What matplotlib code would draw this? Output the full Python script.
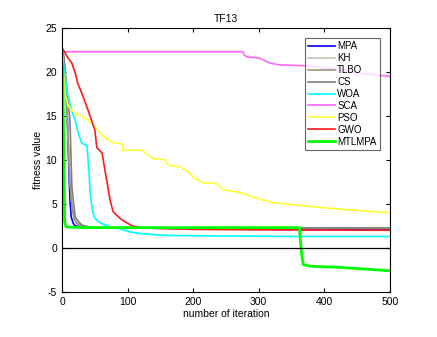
import numpy as np
import matplotlib
matplotlib.use('Agg')
import matplotlib.pyplot as plt

plt.rcParams['font.family'] = ['Liberation Sans', 'DejaVu Sans']
plt.rcParams['axes.unicode_minus'] = False

# iteration / fitness pairs
mpa_x = [0, 2, 5, 8, 10, 12, 14, 17, 20, 30, 50, 100, 200, 300, 400, 500]
mpa_y = [22.6, 22.0, 19.5, 15.0, 10.0, 5.5, 3.5, 2.8, 2.5, 2.4, 2.3, 2.25, 2.2, 2.15, 2.1, 2.1]

kh_x = [0, 3, 6, 9, 12, 15, 18, 22, 30, 50, 100, 500]
kh_y = [22.8, 21.5, 18.0, 13.0, 8.0, 5.0, 3.5, 2.9, 2.5, 2.3, 2.25, 2.2]

tlbo_x = [0, 3, 6, 9, 12, 15, 18, 22, 30, 50, 100, 500]
tlbo_y = [22.7, 21.0, 17.5, 12.5, 7.5, 4.8, 3.4, 2.8, 2.5, 2.3, 2.25, 2.25]

cs_x = [0, 3, 6, 9, 12, 15, 20, 25, 30, 40, 50, 100, 500]
cs_y = [22.8, 21.5, 19.0, 17.0, 14.5, 6.9, 3.5, 3.0, 2.6, 2.4, 2.3, 2.25, 2.25]

woa_x = [0, 2, 8, 15, 20, 25, 30, 36, 38, 40, 42, 43, 45, 47, 50, 55, 62, 70, 80, 91, 100, 111, 125, 142, 170, 250, 350, 500]
woa_y = [22.2, 21.0, 17.6, 15.5, 14.5, 13.0, 11.9, 11.7, 11.6, 9.7, 7.5, 6.2, 5.0, 4.0, 3.4, 3.0, 2.7, 2.5, 2.3, 2.1, 1.9, 1.7, 1.6, 1.5, 1.4, 1.35, 1.3, 1.3]

sca_x = [0, 276, 278, 283, 300, 309, 317, 332, 373, 420, 460, 500]
sca_y = [22.3, 22.3, 21.9, 21.7, 21.6, 21.3, 21.0, 20.8, 20.7, 20.3, 19.8, 19.5]

pso_x = [0, 2, 5, 10, 20, 30, 40, 50, 61, 70, 76, 91, 93, 122, 137, 157, 162, 180, 195, 200, 215, 236, 245, 271, 291, 317, 352, 393, 440, 500]
pso_y = [22.5, 20.0, 17.4, 16.0, 15.3, 15.0, 14.5, 13.8, 12.8, 12.3, 12.0, 11.8, 11.1, 11.1, 10.2, 10.0, 9.4, 9.2, 8.5, 8.0, 7.4, 7.3, 6.6, 6.3, 5.8, 5.2, 4.9, 4.6, 4.3, 4.0]

gwo_x = [0, 2, 9, 15, 20, 24, 30, 38, 45, 50, 53, 61, 66, 70, 73, 78, 85, 91, 100, 107, 122, 150, 200, 300, 500]
gwo_y = [22.7, 22.5, 21.6, 21.0, 19.9, 18.7, 17.6, 16.0, 14.5, 13.4, 11.4, 10.8, 8.6, 6.9, 5.5, 4.1, 3.6, 3.2, 2.8, 2.5, 2.3, 2.2, 2.1, 2.05, 2.0]

mtl_x = [0, 1, 2, 3, 4, 6, 10, 50, 200, 362, 364, 366, 368, 380, 420, 460, 500]
mtl_y = [21.0, 20.5, 15.0, 8.0, 3.0, 2.4, 2.35, 2.3, 2.3, 2.3, 0.5, -1.0, -1.9, -2.1, -2.2, -2.4, -2.6]

names = ['MPA', 'KH', 'TLBO', 'CS', 'WOA', 'SCA', 'PSO', 'GWO', 'MTLMPA']
colors = ['#0000ff', '#c8c4b8', '#989880', '#808080', '#00ffff', '#ff66ff', '#ffff33', '#ff1a1a', '#00ff00']

fig = plt.figure(figsize=(4.37, 3.37), dpi=100)
ax = fig.add_axes([0.142, 0.134, 0.75, 0.783])

series = [(mpa_x, mpa_y), (kh_x, kh_y), (tlbo_x, tlbo_y), (cs_x, cs_y), (woa_x, woa_y),
          (sca_x, sca_y), (pso_x, pso_y), (gwo_x, gwo_y), (mtl_x, mtl_y)]
for (x, y), n, c in zip(series, names, colors):
    lw = 2 if n == 'MTLMPA' else 1.2
    ax.plot(x, y, color=c, lw=lw, label=n)

ax.axhline(0, color='k', lw=0.9)

ax.set_xlim(0, 500)
ax.set_ylim(-5, 25)
ax.set_xticks(np.arange(0, 501, 100))
ax.set_yticks(np.arange(-5, 26, 5))
ax.tick_params(direction='in', top=True, right=True, labelsize=7.5, length=3)
ax.set_xlabel('number of iteration', fontsize=7.5, labelpad=2)
ax.set_ylabel('fitness value', fontsize=7.5, labelpad=2)
ax.set_title('TF13', fontsize=7.5, pad=4)

leg = ax.legend(loc='upper right', fontsize=7, frameon=True, fancybox=False,
                handlelength=2.8, borderaxespad=0, labelspacing=0.2,
                handletextpad=0.2, borderpad=0.35, bbox_to_anchor=(0.97, 0.963))
leg.get_frame().set_edgecolor('#404040')
leg.get_frame().set_linewidth(0.8)

fig.savefig('out.png', dpi=100)
